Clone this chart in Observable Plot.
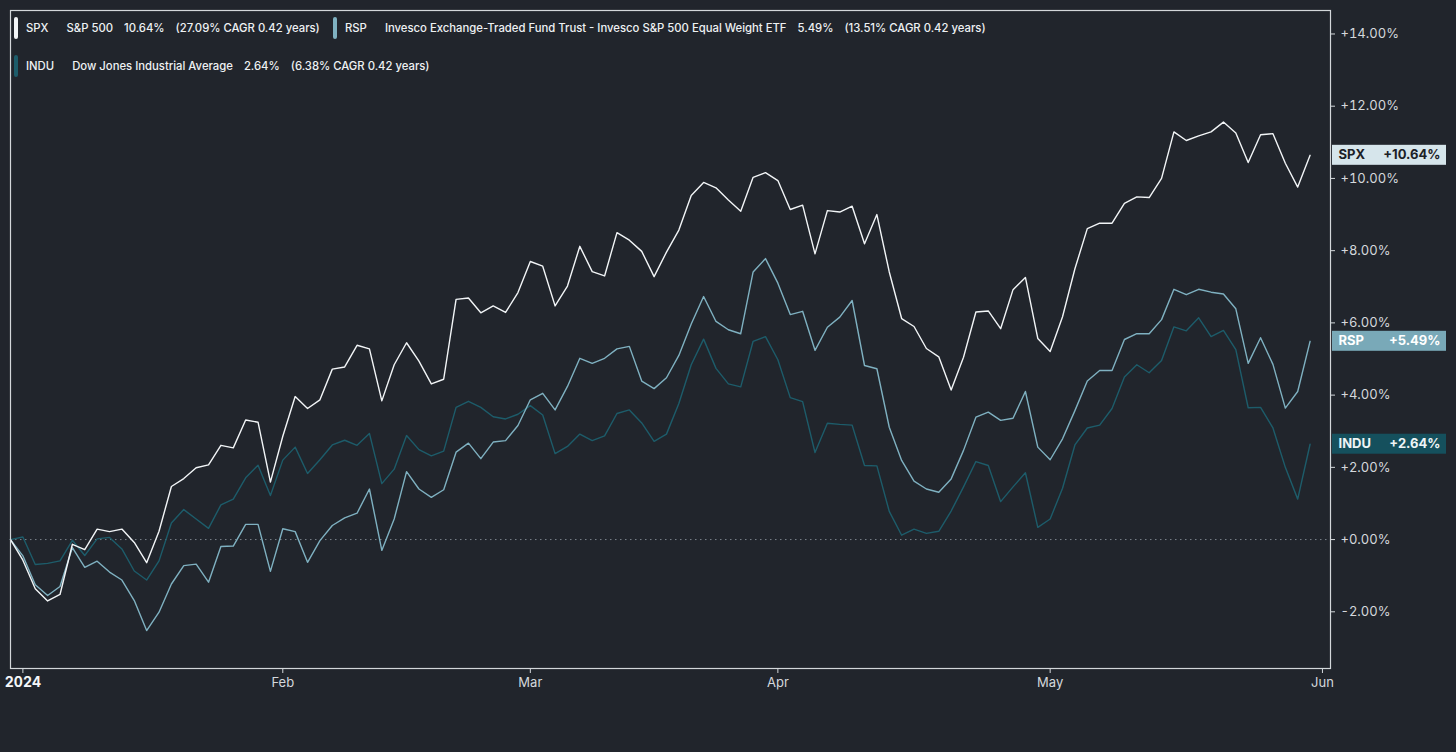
<!DOCTYPE html>
<html>
<head>
<meta charset="utf-8">
<script src="https://cdn.jsdelivr.net/npm/d3@7"></script>
<script src="https://cdn.jsdelivr.net/npm/@observablehq/plot@0.6"></script>
<style>
  html, body { margin: 0; padding: 0; background: #21252c; }
  #wrap { position: relative; width: 1456px; height: 752px; background: #21252c; font-family: Inter, "Noto Sans", sans-serif; }
  .leg { position: absolute; display: flex; align-items: center; height: 22px; color: #eef1f3; font-size: 11.3px; font-weight: 500; white-space: nowrap; }
  .leg .bar { width: 4px; height: 22px; border-radius: 2px; margin-right: 8px; }
  .leg span.t { margin-right: 11px; }
  .leg span.sym { margin-right: 18px; }
</style>
</head>
<body>
<div id="wrap"></div>
<script>
// ---- data (percent change since 2023-12-29, one value per trading day) ----
const spx = [0,-0.57,-1.36,-1.70,-1.52,-0.13,-0.28,0.29,0.22,0.29,-0.08,-0.64,0.23,1.47,1.69,1.99,2.07,2.61,2.54,3.31,3.25,1.59,
  2.86,3.96,3.63,3.87,4.72,4.78,5.38,5.28,3.84,4.84,5.45,4.94,4.31,4.44,6.65,6.69,6.28,6.47,6.29,6.84,
  7.70,7.57,6.47,7.02,8.12,7.42,7.30,8.50,8.29,7.98,7.28,7.96,8.57,9.53,9.89,9.74,9.40,9.09,10.03,10.16,
  9.94,9.14,9.26,7.91,9.11,9.07,9.23,8.19,9.00,7.41,6.12,5.90,5.29,5.06,4.14,5.05,6.30,6.33,5.84,6.92,7.26,5.57,
  5.21,6.17,7.50,8.61,8.76,8.76,9.31,9.49,9.47,10.00,11.29,11.05,11.18,11.29,11.56,11.26,10.44,11.21,11.24,10.42,9.76,10.64];
const rsp = [0,-0.45,-1.25,-1.55,-1.30,-0.22,-0.77,-0.60,-0.90,-1.12,-1.69,-2.52,-2.01,-1.23,-0.72,-0.68,-1.18,-0.19,-0.18,0.42,0.42,-0.88,
  0.30,0.22,-0.63,-0.03,0.39,0.60,0.73,1.40,-0.30,0.57,1.88,1.40,1.17,1.38,2.42,2.67,2.24,2.70,2.74,3.16,
  3.87,4.05,3.59,4.24,5.02,4.88,5.02,5.28,5.35,4.39,4.18,4.48,5.10,5.97,6.73,6.04,5.81,5.70,7.41,7.78,
  7.10,6.23,6.32,5.24,5.88,6.16,6.62,4.82,4.73,3.11,2.19,1.62,1.40,1.31,1.68,2.47,3.39,3.53,3.30,3.36,4.10,2.56,
  2.21,2.79,3.57,4.39,4.68,4.68,5.54,5.70,5.70,6.09,6.93,6.78,6.93,6.85,6.80,6.39,4.88,5.59,4.85,3.64,4.10,5.49];
const indu = [0,0.07,-0.69,-0.66,-0.59,-0.02,-0.44,0.02,0.06,-0.26,-0.87,-1.12,-0.59,0.46,0.83,0.57,0.31,0.96,1.12,1.71,2.06,1.22,
  2.20,2.56,1.83,2.21,2.62,2.75,2.61,2.94,1.55,1.95,2.88,2.49,2.32,2.45,3.66,3.83,3.66,3.40,3.34,3.47,
  3.71,3.45,2.38,2.58,2.92,2.74,2.87,3.49,3.59,3.23,2.72,2.92,3.77,4.84,5.55,4.74,4.31,4.23,5.49,5.62,
  4.98,3.93,3.82,2.41,3.22,3.19,3.17,2.05,2.04,0.78,0.12,0.29,0.17,0.23,0.79,1.46,2.16,2.05,1.05,1.46,1.85,0.34,
  0.57,1.42,2.62,3.09,3.17,3.63,4.50,4.84,4.62,4.96,5.89,5.78,6.14,5.62,5.79,5.26,3.65,3.66,3.09,2.00,1.12,2.64];

const symbols = ["SPX", "RSP", "INDU"];
const names = ["S&P 500", "Invesco Exchange-Traded Fund Trust - Invesco S&P 500 Equal Weight ETF", "Dow Jones Industrial Average"];
const cagr = ["27.09%", "13.51%", "6.38%"];
const lineColors = ["#f2f5f7", "#7fb1c1", "#1d5c6a"];
const boxColors = ["#d6e5eb", "#79a9b8", "#15505d"];
const boxText = ["#1b2026", "#ffffff", "#eef4f6"];

const xTickIdx = [1, 22, 42, 62, 84, 106];      // trading-day index of first session of each month
const xTickLabels = ["2024", "Feb", "Mar", "Apr", "May", "Jun"];
const yTicks = [-2, 0, 2, 4, 6, 8, 10, 12, 14];

// ---- build table ----
const seriesVals = [spx, rsp, indu];
const rows = [];
seriesVals.forEach((arr, s) => arr.forEach((v, i) => rows.push({ s: symbols[s], i, v })));
const last = seriesVals.map((arr, s) => ({ s: symbols[s], i: arr.length - 1, v: arr[arr.length - 1], k: s }));
const XMAX = 106.65;

const fmt = d => (d >= 0 ? "+" : "") + d.toFixed(2) + "%";

const chart = Plot.plot({
  width: 1456, height: 752,
  marginLeft: 10, marginRight: 126, marginTop: 10, marginBottom: 84,
  style: { background: "transparent", color: "#d4d8dc", fontFamily: "Inter, 'Noto Sans', sans-serif", fontSize: "13px" },
  x: { domain: [0, XMAX], axis: null },
  y: { domain: [-3.57, 14.65], axis: null },
  marks: [
    Plot.ruleY([0], { stroke: "#7d858d", strokeDasharray: "1.5,3.5", strokeWidth: 1 }),
    Plot.line(rows.filter(d => d.s === "INDU"), { x: "i", y: "v", stroke: lineColors[2], strokeWidth: 1.4 }),
    Plot.line(rows.filter(d => d.s === "RSP"), { x: "i", y: "v", stroke: lineColors[1], strokeWidth: 1.4 }),
    Plot.line(rows.filter(d => d.s === "SPX"), { x: "i", y: "v", stroke: lineColors[0], strokeWidth: 1.4 }),
    Plot.frame({ stroke: "#d3d7da", strokeWidth: 1.2 }),
    Plot.axisY({ anchor: "right", label: null, ticks: yTicks, tickFormat: fmt, tickSize: 4, tickPadding: 6, stroke: "#d3d7da", fill: "#d4d8dc", fontSize: 13 }),
    Plot.axisX({ label: null, ticks: xTickIdx.slice(0, 1), tickFormat: () => xTickLabels[0], tickSize: 5, tickPadding: 4, fontWeight: "bold", fill: "#f4f6f8", fontSize: 14, stroke: "#d3d7da" }),
    Plot.axisX({ label: null, ticks: xTickIdx.slice(1), tickFormat: d => xTickLabels[xTickIdx.indexOf(d)], tickSize: 5, tickPadding: 4, fill: "#d4d8dc", fontSize: 13, stroke: "#d3d7da" }),
    Plot.rect(last, { x1: () => XMAX, x2: () => XMAX, y1: "v", y2: "v", insetLeft: 2, insetRight: -116, insetTop: -10, insetBottom: -10, fill: d => boxColors[d.k] }),
    Plot.text(last, { x: () => XMAX, y: "v", text: "s", textAnchor: "start", dx: 8, fill: d => boxText[d.k], fontWeight: "bold", fontSize: 13 }),
    Plot.text(last, { x: () => XMAX, y: "v", text: d => fmt(d.v), textAnchor: "end", dx: 110, fill: d => boxText[d.k], fontWeight: "bold", fontSize: 13 })
  ]
});

const wrap = document.getElementById("wrap");
wrap.appendChild(chart);

// ---- legend overlay ----
const legPos = [[14, 17], [333, 17], [14, 55]];
symbols.forEach((sym, k) => {
  const div = document.createElement("div");
  div.className = "leg";
  div.style.left = legPos[k][0] + "px";
  div.style.top = legPos[k][1] + "px";
  const bar = document.createElement("div");
  bar.className = "bar";
  bar.style.background = lineColors[k];
  div.appendChild(bar);
  const texts = [sym, names[k], seriesVals[k][seriesVals[k].length - 1].toFixed(2) + "%", "(" + cagr[k] + " CAGR 0.42 years)"];
  texts.forEach((t, j) => {
    const sp = document.createElement("span");
    sp.className = j === 0 ? "t sym" : "t";
    sp.textContent = t;
    div.appendChild(sp);
  });
  wrap.appendChild(div);
});
</script>
</body>
</html>
